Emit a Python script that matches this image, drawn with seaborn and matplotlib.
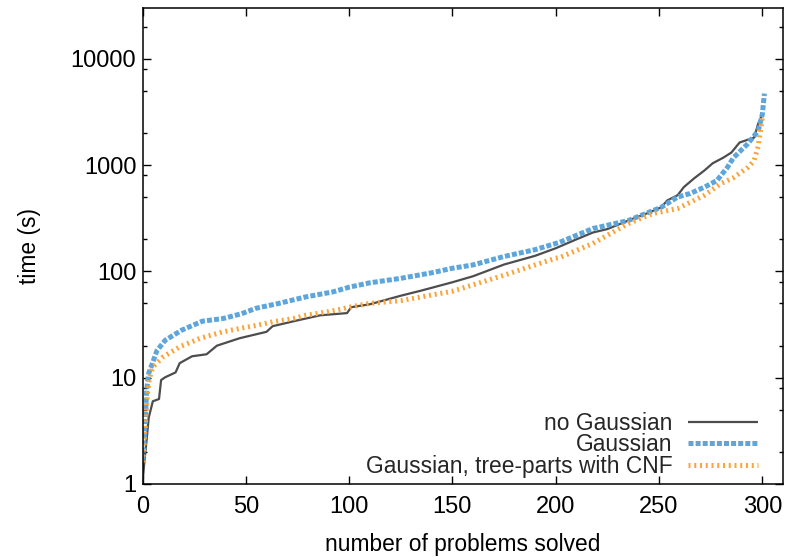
import numpy as np
import pandas as pd
import matplotlib
matplotlib.use("Agg")
import matplotlib.pyplot as plt
from matplotlib.ticker import FixedLocator, NullFormatter, FuncFormatter
import seaborn as sns

# Cactus data: number of problems solved vs. cumulative time (s)
no_gauss_solved = [0, 1, 2, 3, 5, 8, 9, 11, 16, 18, 24, 31, 36, 47, 60, 63, 75, 86,
                   99, 101, 110, 125, 135, 150, 160, 175, 190, 200, 210, 218, 225,
                   235, 244, 251, 254, 259, 262, 267, 272, 276, 281, 285, 289, 296,
                   298, 300]
no_gauss_time = [1.0, 1.7, 2.6, 4.2, 6.0, 6.3, 9.5, 10.1, 11.2, 13.7, 15.9, 16.6,
                 20, 23.5, 27, 30.5, 34.6, 38.6, 40.5, 46, 49, 59, 66, 79, 90, 116,
                 140, 165, 200, 232, 250, 300, 350, 400, 465, 520, 620, 750, 890,
                 1040, 1170, 1310, 1630, 1810, 2450, 3000]

gauss_solved = [0, 1, 2, 3, 5, 7, 11, 19, 29, 39, 48, 55, 66, 79, 92, 100, 110, 125,
                140, 150, 160, 175, 190, 202, 218, 235, 251, 259, 265, 272, 278,
                283, 286, 293, 298, 300, 301]
gauss_time = [1.7, 2.8, 7.6, 11, 14, 18, 22.5, 28, 34, 36, 40, 45, 50, 57.5, 64, 71,
              78, 86, 97, 107, 115, 138, 160, 188, 253, 300, 400, 500, 540, 620,
              715, 945, 1170, 1590, 2100, 3000, 4700]

cnf_solved = [0, 1, 2, 3, 4, 5, 10, 18, 28, 39, 47, 55, 63, 73, 79, 89, 96, 100,
              110, 125, 150, 175, 200, 202, 218, 235, 247, 259, 265, 272, 280, 286,
              293, 296, 298, 300]
cnf_time = [1.6, 2.8, 5.7, 9, 11, 12.6, 15.7, 19.5, 23.5, 27, 29, 31, 33.5, 36,
            38.6, 41.5, 44, 46, 50, 53, 65, 92, 133, 135, 183, 281, 350, 390, 445,
            520, 670, 760, 950, 1100, 1500, 2800]

series_names = ["no Gaussian", "Gaussian", "Gaussian, tree-parts with CNF"]
series_colors = ["#4D4D4D", "#5DA5DA", "#FAA43A"]

sns.set_theme(style="white")
plt.rcParams["font.family"] = ["Liberation Sans", "DejaVu Sans"]
plt.rcParams["font.size"] = 16.4

fig = plt.figure(figsize=(7.85, 5.57), dpi=100)
ax = fig.add_axes([142.5 / 785, 73 / 557, 640.5 / 785, 476 / 557])

frames = [
    pd.DataFrame({"solved": no_gauss_solved, "time": no_gauss_time}),
    pd.DataFrame({"solved": gauss_solved, "time": gauss_time}),
    pd.DataFrame({"solved": cnf_solved, "time": cnf_time}),
]
styles = [
    dict(lw=1.6, ls="-"),
    dict(lw=3.6, dashes=(1.0, 0.42)),
    dict(lw=3.6, dashes=(0.4, 0.75)),
]
for df, name, col, st in zip(frames, series_names, series_colors, styles):
    line_ax = sns.lineplot(data=df, x="solved", y="time", ax=ax, color=col,
                           label=name, sort=True, estimator=None,
                           linewidth=st["lw"])
    ln = line_ax.get_lines()[-1]
    if "dashes" in st:
        ln.set_dashes(st["dashes"])
    ln.set_solid_capstyle("butt")
    ln.set_dash_capstyle("butt")

ax.set_yscale("log")
ax.set_xlim(0, 310)
ax.set_ylim(1, 30000)

ax.xaxis.set_major_locator(FixedLocator([0, 50, 100, 150, 200, 250, 300]))
ax.yaxis.set_major_locator(FixedLocator([1, 10, 100, 1000, 10000]))
ax.yaxis.set_major_formatter(FuncFormatter(lambda v, p: f"{int(round(v))}"))
minor = [m * 10 ** e for e in range(0, 5) for m in (2, 5, 8)]
ax.yaxis.set_minor_locator(FixedLocator(minor))
ax.yaxis.set_minor_formatter(NullFormatter())
ax.xaxis.set_minor_locator(FixedLocator([]))

ax.tick_params(which="both", direction="in", top=True, right=True,
               bottom=True, left=True, color="black", width=1.0)
ax.tick_params(which="major", length=5.5, labelsize=17, pad=4.5,
               labelcolor="black")
ax.tick_params(axis="x", which="major", pad=8.5)
ax.tick_params(which="minor", length=3.0)

for sp in ax.spines.values():
    sp.set_color("black")
    sp.set_linewidth(1.1)
    sp.set_visible(True)

ax.set_xlabel("number of problems solved", fontsize=16.4, color="black")
ax.set_ylabel("time (s)", fontsize=16.4, color="black")
ax.xaxis.set_label_coords(0.5, -0.103)
ax.yaxis.set_label_coords(-0.158, 0.5)

leg = ax.legend(loc="lower right", bbox_to_anchor=(0.961, 0.012),
                frameon=False, markerfirst=False, handlelength=3.08,
                handletextpad=0.66, labelspacing=-0.05, borderpad=0,
                borderaxespad=0, fontsize=16.4)

fig.savefig("out.png", dpi=100, facecolor="white")
